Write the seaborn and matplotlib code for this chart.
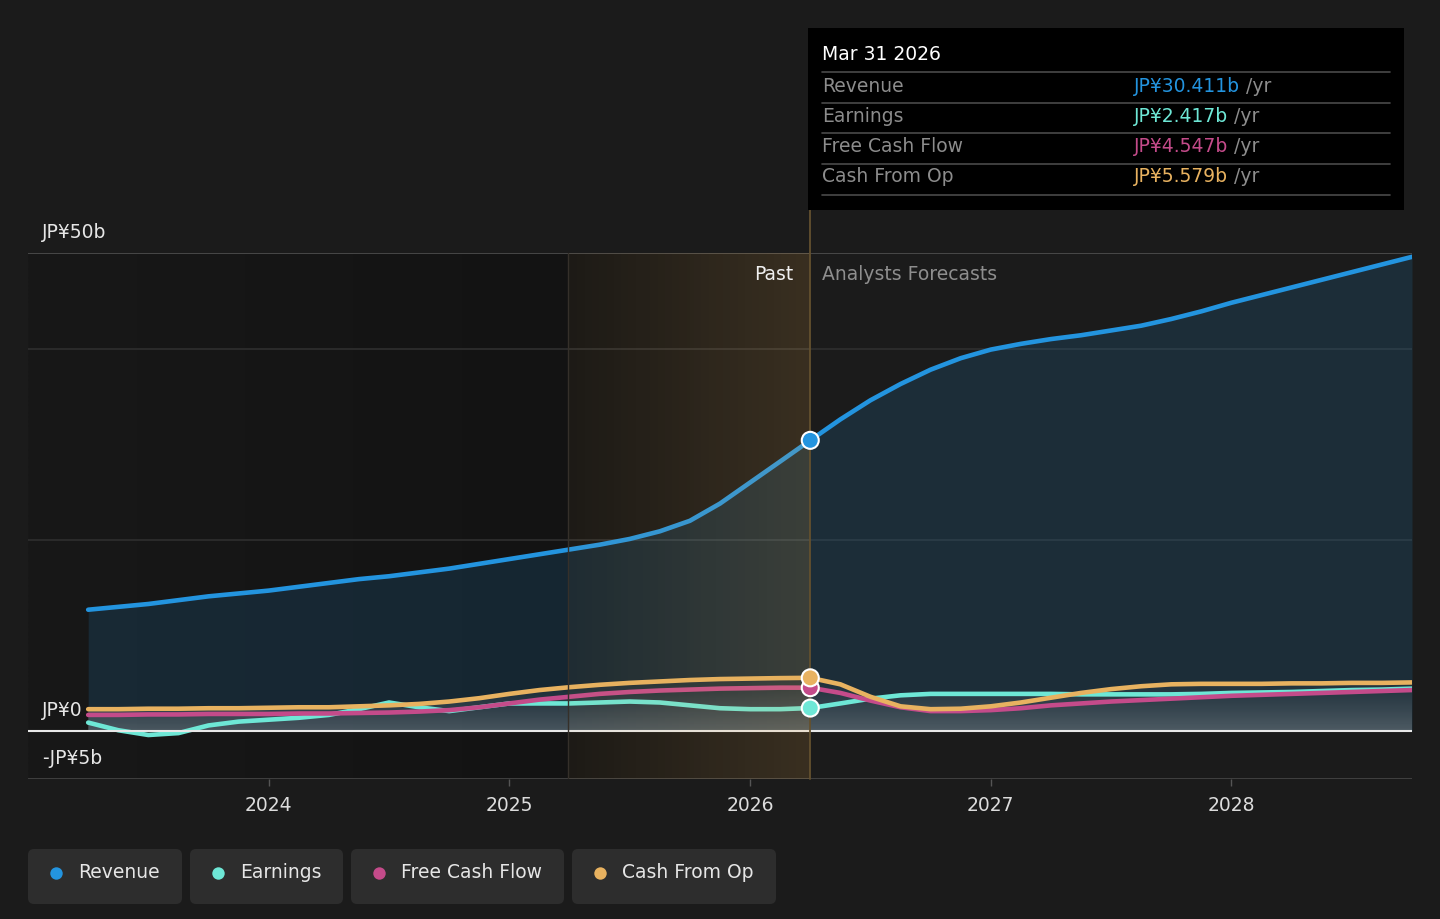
import numpy as np
import pandas as pd
import matplotlib
matplotlib.use("Agg")
import matplotlib.pyplot as plt
from matplotlib.patches import FancyBboxPatch, Rectangle
import seaborn as sns

W, H = 1440, 919

# ---- data (JP¥ billions) ----
years = [2023.25, 2023.375, 2023.5, 2023.625, 2023.75, 2023.875,
         2024.0, 2024.125, 2024.25, 2024.375, 2024.5, 2024.625, 2024.75, 2024.875,
         2025.0, 2025.125, 2025.25, 2025.375, 2025.5, 2025.625, 2025.75, 2025.875,
         2026.0, 2026.125, 2026.25, 2026.375, 2026.5, 2026.625, 2026.75, 2026.875,
         2027.0, 2027.125, 2027.25, 2027.375, 2027.5, 2027.625, 2027.75, 2027.875,
         2028.0, 2028.125, 2028.25, 2028.375, 2028.5, 2028.625, 2028.75]

revenue = [12.7, 13.0, 13.3, 13.7, 14.1, 14.4,
           14.7, 15.1, 15.5, 15.9, 16.2, 16.6, 17.0, 17.5,
           18.0, 18.5, 19.0, 19.5, 20.1, 20.9, 22.0, 23.8,
           26.0, 28.2, 30.411, 32.6, 34.6, 36.3, 37.8, 39.0,
           39.9, 40.5, 41.0, 41.4, 41.9, 42.4, 43.1, 43.9,
           44.8, 45.6, 46.4, 47.2, 48.0, 48.8, 49.6]

earnings = [0.9, 0.1, -0.4, -0.2, 0.6, 1.0,
            1.2, 1.4, 1.7, 2.3, 3.0, 2.5, 2.1, 2.5,
            2.9, 2.9, 2.9, 3.0, 3.1, 3.0, 2.7, 2.4,
            2.3, 2.3, 2.417, 2.9, 3.4, 3.75, 3.9, 3.9,
            3.9, 3.9, 3.9, 3.85, 3.85, 3.85, 3.85, 3.9,
            4.0, 4.05, 4.1, 4.2, 4.3, 4.35, 4.45]

free_cash_flow = [1.7, 1.7, 1.75, 1.75, 1.8, 1.8,
                  1.8, 1.85, 1.85, 1.9, 1.95, 2.05, 2.2, 2.5,
                  2.9, 3.3, 3.6, 3.9, 4.1, 4.25, 4.35, 4.45,
                  4.5, 4.55, 4.547, 4.0, 3.2, 2.5, 2.1, 2.1,
                  2.2, 2.4, 2.7, 2.9, 3.1, 3.25, 3.4, 3.55,
                  3.7, 3.8, 3.9, 4.0, 4.1, 4.2, 4.3]

cash_from_op = [2.3, 2.3, 2.35, 2.35, 2.4, 2.4,
                2.45, 2.5, 2.5, 2.6, 2.7, 2.85, 3.1, 3.45,
                3.9, 4.3, 4.6, 4.85, 5.05, 5.2, 5.35, 5.45,
                5.5, 5.55, 5.579, 4.9, 3.6, 2.6, 2.3, 2.35,
                2.6, 3.0, 3.5, 4.0, 4.4, 4.7, 4.9, 4.95,
                4.95, 4.95, 5.0, 5.0, 5.05, 5.05, 5.1]

series_names = ["Revenue", "Earnings", "Free Cash Flow", "Cash From Op"]
colors = {"Revenue": "#2394df", "Earnings": "#6ee7d6",
          "Free Cash Flow": "#c44b8a", "Cash From Op": "#e8b260"}
tooltip_values = ["JP¥30.411b", "JP¥2.417b", "JP¥4.547b", "JP¥5.579b"]
year_ticks = [2024, 2025, 2026, 2027, 2028]
marker_year = 2026.25

df = pd.DataFrame({
    "year": years * 4,
    "value": revenue + earnings + free_cash_flow + cash_from_op,
    "series": sum([[n] * len(years) for n in series_names], []),
})

sns.set_theme(style="dark", rc={"figure.facecolor": "#1b1b1b", "axes.facecolor": "#1b1b1b"})
plt.rcParams["font.family"] = ["DejaVu Sans"]

fig = plt.figure(figsize=(W / 100, H / 100), dpi=100)
ax = fig.add_axes([28 / W, 1 - 779 / H, 1384 / W, (779 - 253) / H])
ax.set_facecolor("#1b1b1b")

# darker "past" background
gx = np.linspace(2023.0, 2026.25, 400)
shade = np.interp(gx, [2023.0, 2025.25, 2026.25], [0x18, 0x13, 0x15]) / 255
ax.imshow(np.dstack([shade, shade, shade]), extent=[2023.0, 2026.25, -5, 50],
          aspect="auto", zorder=0, interpolation="bilinear")

# gridlines
for yv, c in [(20, "#2f2f2f"), (40, "#2f2f2f"), (50, "#505050"), (-5, "#474747")]:
    ax.axhline(yv, color=c, lw=1.2, zorder=1)

# revenue area
ax.fill_between(years, 0, revenue, color="#2394df", alpha=0.15, lw=0, zorder=1)

# grey glow under the small series
top = np.maximum(np.maximum(earnings, free_cash_flow), cash_from_op)
poly = ax.fill_between(years, 0, top, color="none", lw=0)
g = np.zeros((200, 1, 4))
g[..., :3] = 1.0
g[..., 3] = 0.22 * np.linspace(0, 1, 200)[:, None] ** 1.3
im = ax.imshow(g, extent=[2023.25, 2028.75, 0, 6], aspect="auto", zorder=2)
im.set_clip_path(poly.get_paths()[0], transform=ax.transData)

sns.lineplot(data=df, x="year", y="value", hue="series", hue_order=series_names,
             palette=colors, lw=3.3, legend=False, ax=ax, zorder=3,
             solid_capstyle="round")

ax.axhline(0, color="#e8e8e8", lw=1.5, zorder=3.5)

# past band overlay
bx = np.linspace(0, 1, 300)
ov = np.zeros((1, 300, 4))
ov[..., 0], ov[..., 1], ov[..., 2] = 0.9, 0.68, 0.35
ov[..., 3] = 0.05 + 0.13 * bx
ax.imshow(ov, extent=[2025.245, 2026.25, -5, 50], aspect="auto", zorder=4,
          interpolation="bilinear")
ax.axvline(2025.245, color="#35302a", lw=1.0, zorder=4)
ax.plot([2026.25, 2026.25], [-5, 54.5], color="#64512f", lw=1.3, clip_on=False, zorder=5)

mk = df[df["year"] == marker_year]
sns.scatterplot(data=mk, x="year", y="value", hue="series", hue_order=series_names,
                palette=colors, s=150, edgecolor="white", linewidth=1.5,
                legend=False, ax=ax, zorder=7)

ax.set_xlim(2023.0, 2028.75)
ax.set_ylim(-5, 50)
ax.set_xticks(year_ticks)
ax.set_xticklabels([str(y) for y in year_ticks])
ax.set_yticks([])
ax.set_xlabel("")
ax.set_ylabel("")
for s in ax.spines.values():
    s.set_visible(False)
ax.tick_params(axis="x", bottom=True, length=5, width=1, color="#555555",
               labelcolor="#dcdcdc", labelsize=13.5, pad=7)
ax.grid(False)

# ---- overlay in pixel coordinates ----
ov_ax = fig.add_axes([0, 0, 1, 1])
ov_ax.set_xlim(0, W)
ov_ax.set_ylim(H, 0)
ov_ax.axis("off")

fs = 13.5
ov_ax.text(42, 232, "JP¥50b", color="#e6e6e6", fontsize=fs, va="center")
ov_ax.text(42, 710, "JP¥0", color="#e6e6e6", fontsize=fs, va="center")
ov_ax.text(42, 758, "-JP¥5b", color="#e6e6e6", fontsize=fs, va="center")
ov_ax.text(793, 274, "Past", color="#f0f0f0", fontsize=fs, va="center", ha="right")
ov_ax.text(822, 274, "Analysts Forecasts", color="#8e8e8e", fontsize=fs, va="center")

# tooltip
ov_ax.add_patch(Rectangle((808, 28), 596, 182, facecolor="black", edgecolor="none", zorder=10))
ov_ax.text(822, 55, "Mar 31 2026", color="white", fontsize=fs, va="center", zorder=11)
for yl in [72, 102.5, 133, 163.5, 194.5]:
    ov_ax.plot([822, 1390], [yl, yl], color="#4a4a4a", lw=1.2, zorder=11)
row_y = [86, 116, 147, 177]
value_texts = []
for name, val, yy in zip(series_names, tooltip_values, row_y):
    ov_ax.text(822, yy, name, color="#8c8c8c", fontsize=fs, va="center", zorder=11)
    t = ov_ax.text(1134, yy, val, color=colors[name], fontsize=fs, va="center", zorder=11)
    value_texts.append((t, yy))

fig.canvas.draw()
renderer = fig.canvas.get_renderer()
inv = ov_ax.transData.inverted()
for t, yy in value_texts:
    bb = t.get_window_extent(renderer)
    x_end = inv.transform((bb.x1, bb.y0))[0]
    ov_ax.text(x_end, yy, " /yr", color="#8c8c8c", fontsize=fs, va="center", zorder=11)

# legend
boxes = [(28, 182), (190, 343), (351, 564), (572, 776)]
for name, (x0, x1) in zip(series_names, boxes):
    ov_ax.add_patch(FancyBboxPatch((x0, 849), x1 - x0, 55,
                                   boxstyle="round,pad=0,rounding_size=6",
                                   facecolor="#2d2d2d", edgecolor="none", zorder=10))
    ov_ax.scatter([x0 + 28], [873], s=80, color=colors[name], zorder=11, linewidths=0)
    ov_ax.text(x0 + 50, 873, name, color="#e6e6e6", fontsize=fs, va="center", zorder=11)

fig.savefig("out.png", dpi=100, facecolor=fig.get_facecolor())
